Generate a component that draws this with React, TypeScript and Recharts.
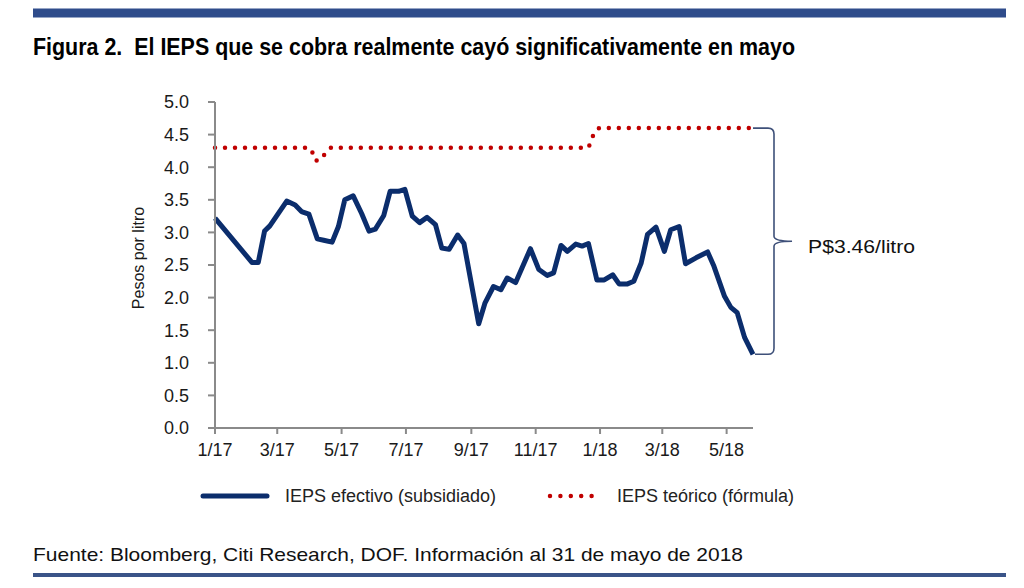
import React from 'react';
import { LineChart, Line, XAxis, YAxis, ReferenceArea, Legend } from 'recharts';

// x values are days counted from 1 Jan 2017
const monthTickDays = [0, 59, 120, 181, 243, 304, 365, 424, 485];
const monthTickLabels = ['1/17', '3/17', '5/17', '7/17', '9/17', '11/17', '1/18', '3/18', '5/18'];
const yTicks = [0, 0.5, 1, 1.5, 2, 2.5, 3, 3.5, 4, 4.5, 5];

const seriesNames = ['IEPS efectivo (subsidiado)', 'IEPS teórico (fórmula)'];

const efectivoDays = [
  0, 35, 41, 47, 52, 68, 76, 82, 89, 97, 103, 111, 117, 123, 131, 139, 146, 152, 160, 166,
  174, 180, 187, 194, 201, 209, 215, 222, 230, 236, 250, 256, 264, 271, 277, 285, 299, 307,
  315, 321, 328, 334, 342, 348, 354, 362, 369, 377, 383, 391, 397, 404, 410, 418, 426, 432,
  440, 446, 456, 467, 473, 483, 489, 495, 502, 510,
];
const efectivoValues = [
  3.22, 2.54, 2.54, 3.02, 3.1, 3.48, 3.42, 3.32, 3.28, 2.9, 2.88, 2.85, 3.09, 3.5, 3.56, 3.29,
  3.02, 3.05, 3.26, 3.63, 3.63, 3.66, 3.25, 3.15, 3.23, 3.12, 2.76, 2.74, 2.96, 2.83, 1.6, 1.92,
  2.17, 2.12, 2.3, 2.23, 2.75, 2.43, 2.34, 2.38, 2.8, 2.71, 2.82, 2.79, 2.83, 2.27, 2.27, 2.35,
  2.21, 2.21, 2.25, 2.53, 2.97, 3.08, 2.71, 3.04, 3.09, 2.52, 2.61, 2.7, 2.48, 2.02, 1.85, 1.77,
  1.39, 1.13,
];

const teoricoDays = [0, 89, 92, 95, 100, 105, 110, 354, 356, 359, 364, 510];
const teoricoValues = [4.3, 4.3, 4.24, 4.1, 4.11, 4.22, 4.3, 4.3, 4.38, 4.51, 4.6, 4.6];

const braceLabel = 'P$3.46/litro';

const efectivoData = efectivoDays.map((day, i) => ({ day, value: efectivoValues[i] }));
const teoricoData = teoricoDays.map((day, i) => ({ day, value: teoricoValues[i] }));

const lastDay = efectivoDays[efectivoDays.length - 1];
const blue = '#0B2D6C';
const red = '#C00000';
const axisGrey = '#8A8A8A';
const font = 'Arial, "Liberation Sans", sans-serif';

const formatMonth = (d: number) => monthTickLabels[monthTickDays.indexOf(d)] ?? '';

const Brace = (props: any) => {
  const { x, y, width, height } = props;
  const xm = x + 21;
  const mid = y + height / 2;
  const tip = x + width;
  const bottom = y + height;
  const d = `M${x} ${y} H${xm - 6} Q${xm} ${y} ${xm} ${y + 6} V${mid - 5} Q${xm} ${mid} ${tip} ${mid} ` +
    `Q${xm} ${mid} ${xm} ${mid + 5} V${bottom - 6} Q${xm} ${bottom} ${xm - 6} ${bottom} H${x + 2}`;
  return (
    <g>
      <path d={d} fill="none" stroke="#3E5079" strokeWidth={1.6} />
      <text x={tip + 16} y={mid + 12} fontSize={19} fill="#111" fontFamily={font}
        textLength={107} lengthAdjust="spacingAndGlyphs">
        {braceLabel}
      </text>
    </g>
  );
};

const LegendBox = () => (
  <svg width={1024} height={30} style={{ display: 'block' }}>
    <line x1={203} x2={267} y1={15} y2={15} stroke={blue} strokeWidth={5} strokeLinecap="round" />
    <text x={285} y={21} fontSize={18} fill="#222" fontFamily={font}>{seriesNames[0]}</text>
    <line x1={550} x2={595} y1={15} y2={15} stroke={red} strokeWidth={4.5}
      strokeDasharray="0 10.4" strokeLinecap="round" />
    <text x={617} y={21} fontSize={18} fill="#222" fontFamily={font}>{seriesNames[1]}</text>
  </svg>
);

export default function App() {
  return (
    <div style={{ position: 'absolute', left: 0, top: 0, width: 1024, height: 588, background: '#fff', fontFamily: font }}>
      <svg width={1024} height={588} style={{ position: 'absolute', left: 0, top: 0 }}>
        <rect x={33} y={8.5} width={973} height={9} fill="#2F4C8B" />
        <text x={33} y={55} fontSize={23} fontWeight="bold" fill="#000" fontFamily={font}
          textLength={762} lengthAdjust="spacingAndGlyphs" xmlSpace="preserve">
          {'Figura 2.\u00a0 El IEPS que se cobra realmente cayó significativamente en mayo'}
        </text>
        <text x={33} y={561} fontSize={19} fill="#111" fontFamily={font}
          textLength={710} lengthAdjust="spacingAndGlyphs">
          Fuente: Bloomberg, Citi Research, DOF. Información al 31 de mayo de 2018
        </text>
        <rect x={33} y={573} width={973} height={4} fill="#3A5488" />
      </svg>
      <div style={{ position: 'absolute', left: 0, top: 0 }}>
        <LineChart width={1024} height={588} margin={{ top: 102, right: 271, bottom: 100, left: 61 }}>
          <XAxis
            type="number"
            dataKey="day"
            domain={[0, lastDay]}
            ticks={monthTickDays}
            tickFormatter={formatMonth}
            height={30}
            stroke={axisGrey}
            strokeWidth={2}
            tickSize={6}
            tickMargin={9}
            tick={{ fontSize: 18, fill: '#1a1a1a', fontFamily: font }}
            interval={0}
          />
          <YAxis
            type="number"
            domain={[0, 5]}
            ticks={yTicks}
            tickFormatter={(v: number) => v.toFixed(1)}
            width={154}
            stroke={axisGrey}
            strokeWidth={2}
            tickSize={7}
            tickMargin={19}
            tick={{ fontSize: 18, fill: '#1a1a1a', fontFamily: font }}
            interval={0}
            label={{
              content: ({ viewBox }: any) => {
                const cx = viewBox.x + viewBox.width / 2;
                const cy = viewBox.y + viewBox.height / 2 - 7;
                return (
                  <text x={cx} y={cy} transform={`rotate(-90 ${cx} ${cy})`} textAnchor="middle"
                    dominantBaseline="central" fontSize={16} fill="#1a1a1a" fontFamily={font}>
                    Pesos por litro
                  </text>
                );
              },
            }}
          />
          <Line
            data={teoricoData}
            dataKey="value"
            name={seriesNames[1]}
            type="linear"
            stroke={red}
            strokeWidth={4.5}
            strokeDasharray="0 10"
            strokeLinecap="round"
            dot={false}
            activeDot={false}
            isAnimationActive={false}
          />
          <Line
            data={efectivoData}
            dataKey="value"
            name={seriesNames[0]}
            type="linear"
            stroke={blue}
            strokeWidth={5}
            strokeLinejoin="round"
            dot={false}
            activeDot={false}
            isAnimationActive={false}
          />
          <ReferenceArea
            x1={lastDay}
            x2={lastDay + 37}
            y1={efectivoValues[efectivoValues.length - 1]}
            y2={teoricoValues[teoricoValues.length - 1]}
            ifOverflow="visible"
            shape={<Brace />}
          />
          <Legend
            content={<LegendBox />}
            wrapperStyle={{ position: 'absolute', left: 0, top: 481, width: 1024, height: 30 }}
          />
        </LineChart>
      </div>
    </div>
  );
}
